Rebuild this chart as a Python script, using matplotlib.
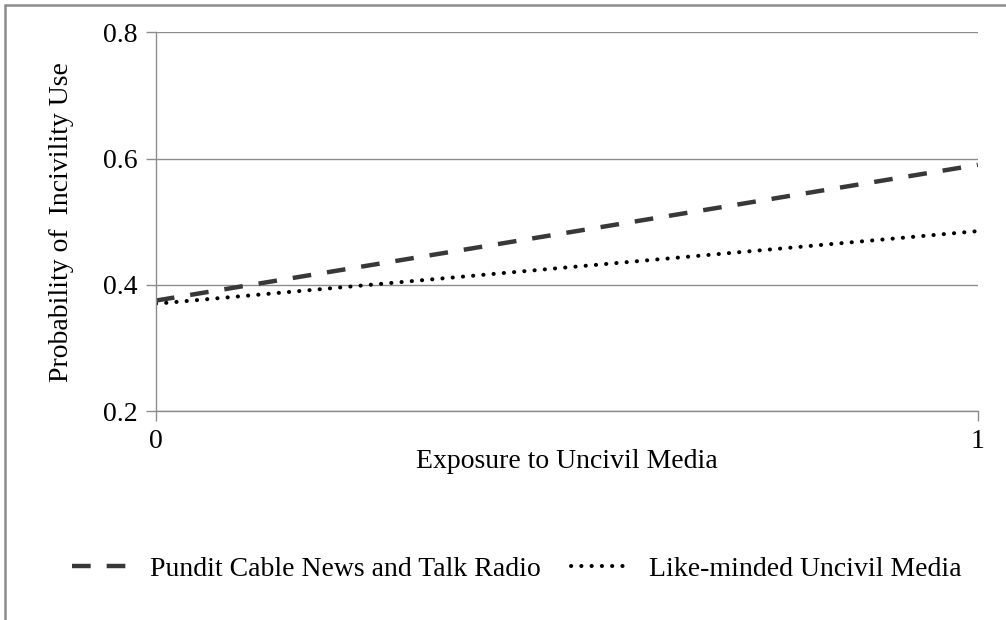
import matplotlib
matplotlib.use('Agg')
import matplotlib.pyplot as plt
from matplotlib.patches import Rectangle

# Values
exposure = [0, 1]
pundit = [0.375, 0.59]
likeminded = [0.37, 0.485]
yticks = [0.2, 0.4, 0.6, 0.8]
xticks = [0, 1]
xtick_labels = ['0', '1']

plt.rcParams['font.family'] = ['Liberation Serif', 'DejaVu Serif']
plt.rcParams['font.size'] = 20

fig = plt.figure(figsize=(10.06, 6.2), dpi=100)
ax = fig.add_axes([0.155, 0.337, 0.817, 0.611])

ax.plot(exposure, pundit, color='#383838', lw=3.2, dashes=(4.2, 3.6),
        solid_capstyle='butt', label='Pundit Cable News and Talk Radio')
ax.plot(exposure, likeminded, color='black', lw=2.9, dashes=(0.05, 2.5),
        dash_capstyle='round', label='Like-minded Uncivil Media')

ax.set_xlim(0, 1)
ax.set_ylim(0.2, 0.8)
ax.set_yticks(yticks)
ax.set_yticklabels([f'{v:.1f}' for v in yticks])
ax.set_xticks(xticks)
ax.set_xticklabels(xtick_labels)
ax.grid(axis='y', color='#8c8c8c', lw=1.0)
ax.set_axisbelow(True)

for s in ['top', 'right']:
    ax.spines[s].set_visible(False)
for s in ['left', 'bottom']:
    ax.spines[s].set_color('#8c8c8c')
    ax.spines[s].set_linewidth(1.0)
ax.tick_params(axis='both', color='#8c8c8c', length=7, width=1.0)
ax.tick_params(axis='y', pad=6)
ax.tick_params(axis='x', pad=6)

ax.set_xlabel('Exposure to Uncivil Media', labelpad=-4)
ax.set_ylabel('Probability of  Incivility Use', labelpad=21)

fig.legend(loc='center', bbox_to_anchor=(0.514, 0.082), ncol=2,
           frameon=False, handlelength=2.1, columnspacing=1.1,
           handletextpad=0.7)

# outer chart frame (partially cut off on right/bottom)
fig.patches.append(Rectangle((5 / 1006, -0.1), 1.2, (615 / 620) + 0.1,
                             transform=fig.transFigure, fill=False,
                             edgecolor='#8c8c8c', lw=1.8, clip_on=False))

fig.savefig('out.png', dpi=100)
